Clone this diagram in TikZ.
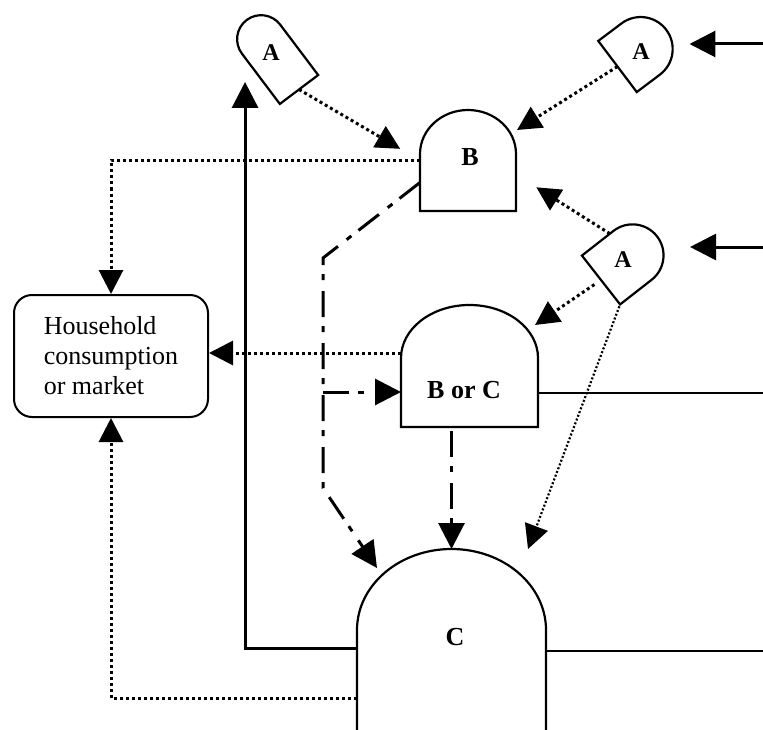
\documentclass[tikz,border=0pt]{standalone}
\usepackage{fontspec}
\setmainfont{Liberation Serif}
\usetikzlibrary{arrows.meta}
\tikzset{
  outline/.style={line width=1.1pt},
  tag/.style={font=\fontsize{13}{15}\selectfont\bfseries, inner sep=1pt},
  smalltag/.style={tag, font=\fontsize{12}{14}\selectfont\bfseries},
  link/.style={line width=1.3pt},
  feed/.style={line width=1.5pt, -{Triangle[length=13pt, width=13pt]}},
  dotarr/.style={line width=1.5pt, dash pattern=on 1.5pt off 1.5pt, -{Triangle[length=12pt, width=12pt]}},
  finedot/.style={line width=1.1pt, dash pattern=on 1pt off 1pt, -{Triangle[length=12pt, width=12pt]}},
  dasharr/.style={line width=1.5pt, dash pattern=on 13pt off 4.5pt on 3pt off 5.5pt, -{Triangle[length=13pt, width=13pt]}},
  household/.style={draw, line width=1pt, rounded corners=9pt, minimum width=97pt, minimum height=61pt,
    align=left, font=\fontsize{13}{15}\selectfont},
  pics/dome/.style n args={3}{code={
    \draw[outline] (-#1/2,0) -- (-#1/2,#2)
      arc[start angle=180, end angle=0, x radius=#1/2, y radius=#3] -- (#1/2,0) -- cycle;
    \node[transform shape, inner sep=0pt, outer sep=0pt,
      minimum width=#1pt, minimum height=#2pt+#3pt] (-box) at (0,{(#2+#3)/2}) {};
  }},
}
\begin{document}
\begin{tikzpicture}[x=1pt, y=1pt]
  \useasboundingbox (0,0) rectangle (381.5,364.5);
  \clip (0,0) rectangle (381.5,364.5);
  % units
  \pic[rotate=37] (a1) at (149.5,319.75) {dome={24}{31.5}{12}};
  \pic[rotate=-53] (a2) at (308.75,331.25) {dome={32}{14.5}{16}};
  \pic[rotate=-52] (a3) at (300.5,224.5) {dome={31}{20}{15.5}};
  \pic (b) at (234,259) {dome={48}{28.5}{22}};
  \pic (borc) at (234.75,151) {dome={68.5}{34.5}{26.5}};
  \pic (c) at (225.75,-15.5) {dome={94.5}{65}{40.5}};
  \node[household] (house) at (55.5,186.5) {Household\\consumption\\or market};
  % labels
  \node[smalltag] (la1) at (135.5,338) {A};
  \node[smalltag] (la2) at (320.5,338.5) {A};
  \node[smalltag] (la3) at (311.5,234.5) {A};
  \node[tag] (lb) at (235,286) {B};
  \node[tag] (lborc) at (232,169.5) {B or C};
  \node[tag] (lc) at (227.5,46) {C};
  % free ends and bends
  \coordinate (feed1) at (381.5,342.5);
  \coordinate (feed2) at (381.5,241);
  \coordinate (exit1) at (381.5,168);
  \coordinate (exit2) at (381.5,39);
  \coordinate (kink1) at (161.5,235.5);
  \coordinate (kink2) at (161.5,120.5);
  % solid flows
  \draw[feed, shorten >=2pt] (feed1) -- (feed1 -| a2-box.north east);
  \draw[feed, shorten >=7pt] (feed2) -- (feed2 -| a3-box.north east);
  \draw[link] (borc-box.east |- exit1) -- (exit1);
  \draw[link] (c-box.east |- exit2) -- (exit2);
  \draw[feed] ([yshift=3.25pt]c-box.west) -| ([xshift=-17.4pt,yshift=11pt]a1-box.south west);
  % dotted flows
  \draw[dotarr, shorten >=11.5pt] (a1-box.south) -- (b-box.west);
  \draw[dotarr] (a2-box.south) -- ([xshift=0.5pt,yshift=-10pt]b-box.north east);
  \draw[dotarr, shorten >=12pt] (a3-box.west) -- ([yshift=-7pt]b-box.east);
  \draw[dotarr, shorten <=4pt] (a3-box.south) -- ([xshift=-1.5pt,yshift=-10pt]borc-box.north east);
  \draw[finedot, shorten <=1pt] (a3-box.south east) -- ([xshift=-9pt]c-box.north east);
  \draw[dotarr] (b-box.west) -| (house.north);
  \draw[dotarr] ([yshift=6.5pt]borc-box.west) -- ([yshift=1.5pt]house.east);
  \draw[dotarr] ([yshift=-21.75pt]c-box.west) -| (house.south);
  % dash-dot flows
  \draw[dasharr] ([yshift=-11pt]b-box.west) -- (kink1) -- (kink2) -- ([xshift=10pt,yshift=-9.5pt]c-box.north west);
  \path ([yshift=-13pt]borc-box.west) coordinate (bcin);
  \draw[dasharr] (kink1 |- bcin) -- (bcin);
  \draw[dasharr, shorten <=2pt] (borc-box.south -| c-box.north) -- (c-box.north);
\end{tikzpicture}
\end{document}
